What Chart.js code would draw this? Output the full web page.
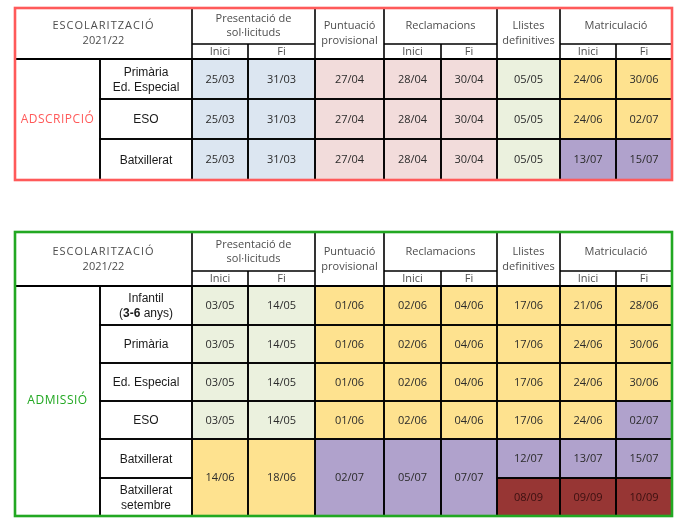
<!DOCTYPE html>
<html>
<head>
<meta charset="utf-8">
<script src="https://cdn.jsdelivr.net/npm/chart.js@4.4.1/dist/chart.umd.min.js"></script>
<style>
  html, body { margin: 0; padding: 0; background: #fff; overflow: hidden; }
  canvas { display: block; }
</style>
</head>
<body>
<canvas id="calendarChart" width="689" height="526"></canvas>
<script>
// --- data ---
const titleLines = ['ESCOLARITZACIÓ', '2021/22'];
const stages = [['Presentació de', 'sol·licituds'], ['Puntuació', 'provisional'], ['Reclamacions'], ['Llistes', 'definitives'], ['Matriculació']];
const stageHasStartEnd = [true, false, true, false, true];
const subLabels = ['Inici', 'Fi'];

const adscripcioLevels = [['Primària', 'Ed. Especial'], ['ESO'], ['Batxillerat']];
const adscripcioDates = [
  ['25/03', '31/03', '27/04', '28/04', '30/04', '05/05', '24/06', '30/06'],
  ['25/03', '31/03', '27/04', '28/04', '30/04', '05/05', '24/06', '02/07'],
  ['25/03', '31/03', '27/04', '28/04', '30/04', '05/05', '13/07', '15/07']
];

const admissioLevels = [['Infantil', '(**3-6** anys)'], ['Primària'], ['Ed. Especial'], ['ESO'], ['Batxillerat'], ['Batxillerat', 'setembre']];
// null = same cell as the row above (merged)
const admissioDates = [
  ['03/05', '14/05', '01/06', '02/06', '04/06', '17/06', '21/06', '28/06'],
  ['03/05', '14/05', '01/06', '02/06', '04/06', '17/06', '24/06', '30/06'],
  ['03/05', '14/05', '01/06', '02/06', '04/06', '17/06', '24/06', '30/06'],
  ['03/05', '14/05', '01/06', '02/06', '04/06', '17/06', '24/06', '02/07'],
  ['14/06', '18/06', '02/07', '05/07', '07/07', '12/07', '13/07', '15/07'],
  [null, null, null, null, null, '08/09', '09/09', '10/09']
];

// --- styles ---
const palette = { b: '#dce6f1', p: '#f2dcdb', g: '#ebf1de', y: '#fee28f', v: '#b0a2cc', r: '#973634' };
const adscripcioFill = [
  ['b', 'b', 'p', 'p', 'p', 'g', 'y', 'y'],
  ['b', 'b', 'p', 'p', 'p', 'g', 'y', 'y'],
  ['b', 'b', 'p', 'p', 'p', 'g', 'v', 'v']
];
const admissioFill = [
  ['g', 'g', 'y', 'y', 'y', 'y', 'y', 'y'],
  ['g', 'g', 'y', 'y', 'y', 'y', 'y', 'y'],
  ['g', 'g', 'y', 'y', 'y', 'y', 'y', 'y'],
  ['g', 'g', 'y', 'y', 'y', 'y', 'y', 'v'],
  ['y', 'y', 'v', 'v', 'v', 'v', 'v', 'v'],
  [null, null, null, null, null, 'r', 'r', 'r']
];

// layout (in scale units)
const colX = [15, 100, 192, 248, 315, 384, 441, 497, 560, 616, 672];
const blocks = [
  { name: 'ADSCRIPCIÓ', accent: '#ff5a5a', levels: adscripcioLevels, dates: adscripcioDates, fill: adscripcioFill,
    top: 8, sub: 44, head: 59, rows: [59, 99, 139, 180] },
  { name: 'ADMISSIÓ', accent: '#22a822', levels: admissioLevels, dates: admissioDates, fill: admissioFill,
    top: 232, sub: 271, head: 286, rows: [286, 325, 363, 401, 439, 478, 516] }
];

const headFont = '11px "Open Sans"';
const levelFont = '12px "Liberation Sans"';
const levelBold = 'bold 12px "Liberation Sans"';
const dateFont = '11px "Open Sans"';

function richText(ctx, text, cx, cy) {
  const parts = text.split(/\*\*(.*?)\*\*/);
  let total = 0;
  parts.forEach((p, i) => { ctx.font = i % 2 ? levelBold : levelFont; total += ctx.measureText(p).width; });
  let x = cx - total / 2;
  ctx.textAlign = 'left';
  parts.forEach((p, i) => {
    ctx.font = i % 2 ? levelBold : levelFont;
    ctx.fillText(p, x, cy);
    x += ctx.measureText(p).width;
  });
  ctx.textAlign = 'center';
}

function lines(ctx, arr, cx, cy, lh, rich) {
  arr.forEach((t, i) => {
    const y = cy + (i - (arr.length - 1) / 2) * lh;
    if (rich) richText(ctx, t, cx, y); else ctx.fillText(t, cx, y);
  });
}

function drawBlock(ctx, X, Y, b) {
  const L = X(colX[0]), R = X(colX[colX.length - 1]);
  const top = Y(b.top), sub = Y(b.sub), head = Y(b.head);
  const bottom = Y(b.rows[b.rows.length - 1]);
  const cells = [];
  b.dates.forEach((row, r) => row.forEach((d, c) => {
    if (d === null) return;
    let r2 = r + 1;
    while (r2 < b.dates.length && b.dates[r2][c] === null) r2++;
    cells.push({ d, fill: palette[b.fill[r][c]], x0: X(colX[c + 2]), x1: X(colX[c + 3]), y0: Y(b.rows[r]), y1: Y(b.rows[r2]) });
  }));

  ctx.save();
  ctx.textAlign = 'center';
  ctx.textBaseline = 'middle';

  cells.forEach(c => { ctx.fillStyle = c.fill; ctx.fillRect(c.x0, c.y0, c.x1 - c.x0, c.y1 - c.y0); });

  ctx.strokeStyle = '#000';
  ctx.lineWidth = 1.6;
  cells.forEach(c => ctx.strokeRect(c.x0, c.y0, c.x1 - c.x0, c.y1 - c.y0));

  // level labels
  const lx0 = X(colX[1]), lx1 = X(colX[2]);
  b.levels.forEach((lv, r) => {
    const y0 = Y(b.rows[r]), y1 = Y(b.rows[r + 1]);
    ctx.strokeRect(lx0, y0, lx1 - lx0, y1 - y0);
    ctx.fillStyle = '#1a1a1a';
    lines(ctx, lv, (lx0 + lx1) / 2, (y0 + y1) / 2 + 1, 15, true);
  });
  ctx.strokeRect(L, head, lx0 - L, bottom - head);

  // header
  ctx.fillStyle = '#4d4d4d';
  ctx.font = headFont;
  ctx.letterSpacing = '1px';
  lines(ctx, titleLines.slice(0, 1), (L + lx1) / 2, (top + head) / 2 - 7.5, 15);
  ctx.letterSpacing = '0px';
  lines(ctx, titleLines.slice(1), (L + lx1) / 2, (top + head) / 2 + 7.5, 15);

  let ci = 2;
  stages.forEach((s, i) => {
    const span = stageHasStartEnd[i] ? 2 : 1;
    const x0 = X(colX[ci]), x1 = X(colX[ci + span]);
    ctx.beginPath();
    ctx.moveTo(x0, top); ctx.lineTo(x0, head);
    if (span === 2) {
      const xm = X(colX[ci + 1]);
      ctx.moveTo(x0, sub); ctx.lineTo(x1, sub);
      ctx.moveTo(xm, sub); ctx.lineTo(xm, head);
      ctx.stroke();
      ctx.fillStyle = '#4d4d4d';
      ctx.font = headFont;
      lines(ctx, s, (x0 + x1) / 2, (top + sub) / 2, 14);
      subLabels.forEach((t, k) => {
        const a = X(colX[ci + k]), z = X(colX[ci + k + 1]);
        ctx.fillText(t, (a + z) / 2, (sub + head) / 2);
      });
    } else {
      ctx.stroke();
      ctx.fillStyle = '#4d4d4d';
      ctx.font = headFont;
      lines(ctx, s, (x0 + x1) / 2, (top + head) / 2, 15);
    }
    ci += span;
  });

  ctx.lineWidth = 2.2;
  ctx.beginPath();
  ctx.moveTo(L, head); ctx.lineTo(R, head);
  ctx.stroke();

  // dates
  ctx.font = dateFont;
  cells.forEach(c => {
    ctx.fillStyle = c.fill === palette.r ? '#3a1010' : '#2b2b2b';
    ctx.fillText(c.d, (c.x0 + c.x1) / 2, (c.y0 + c.y1) / 2 + 0.5);
  });

  // group name
  ctx.fillStyle = b.accent;
  ctx.font = '12px "Open Sans"';
  ctx.letterSpacing = '0.5px';
  ctx.fillText(b.name, (L + lx0) / 2, (head + bottom) / 2);
  ctx.letterSpacing = '0px';

  // outer border
  ctx.strokeStyle = b.accent;
  ctx.lineWidth = 2.6;
  ctx.strokeRect(L, top, R - L, bottom - top);
  ctx.restore();
}

const tablePlugin = {
  id: 'tablePlugin',
  afterDatasetsDraw(chart) {
    const X = v => chart.scales.x.getPixelForValue(v);
    const Y = v => chart.scales.y.getPixelForValue(v);
    blocks.forEach(b => drawBlock(chart.ctx, X, Y, b));
  }
};

// one invisible point per cell centre, so the scales carry the grid
const centres = [];
blocks.forEach(b => b.dates.forEach((row, r) => row.forEach((d, c) => {
  if (d !== null) centres.push({ x: (colX[c + 2] + colX[c + 3]) / 2, y: (b.rows[r] + b.rows[r + 1]) / 2 });
})));

new Chart(document.getElementById('calendarChart'), {
  type: 'scatter',
  data: { datasets: [{ data: centres, pointRadius: 0, showLine: false }] },
  options: {
    responsive: false,
    animation: false,
    events: [],
    layout: { padding: 0 },
    scales: {
      x: { type: 'linear', min: 0, max: 689, display: false },
      y: { type: 'linear', min: 0, max: 526, reverse: true, display: false }
    },
    plugins: { legend: { display: false }, tooltip: { enabled: false } }
  },
  plugins: [tablePlugin]
});
</script>
</body>
</html>
